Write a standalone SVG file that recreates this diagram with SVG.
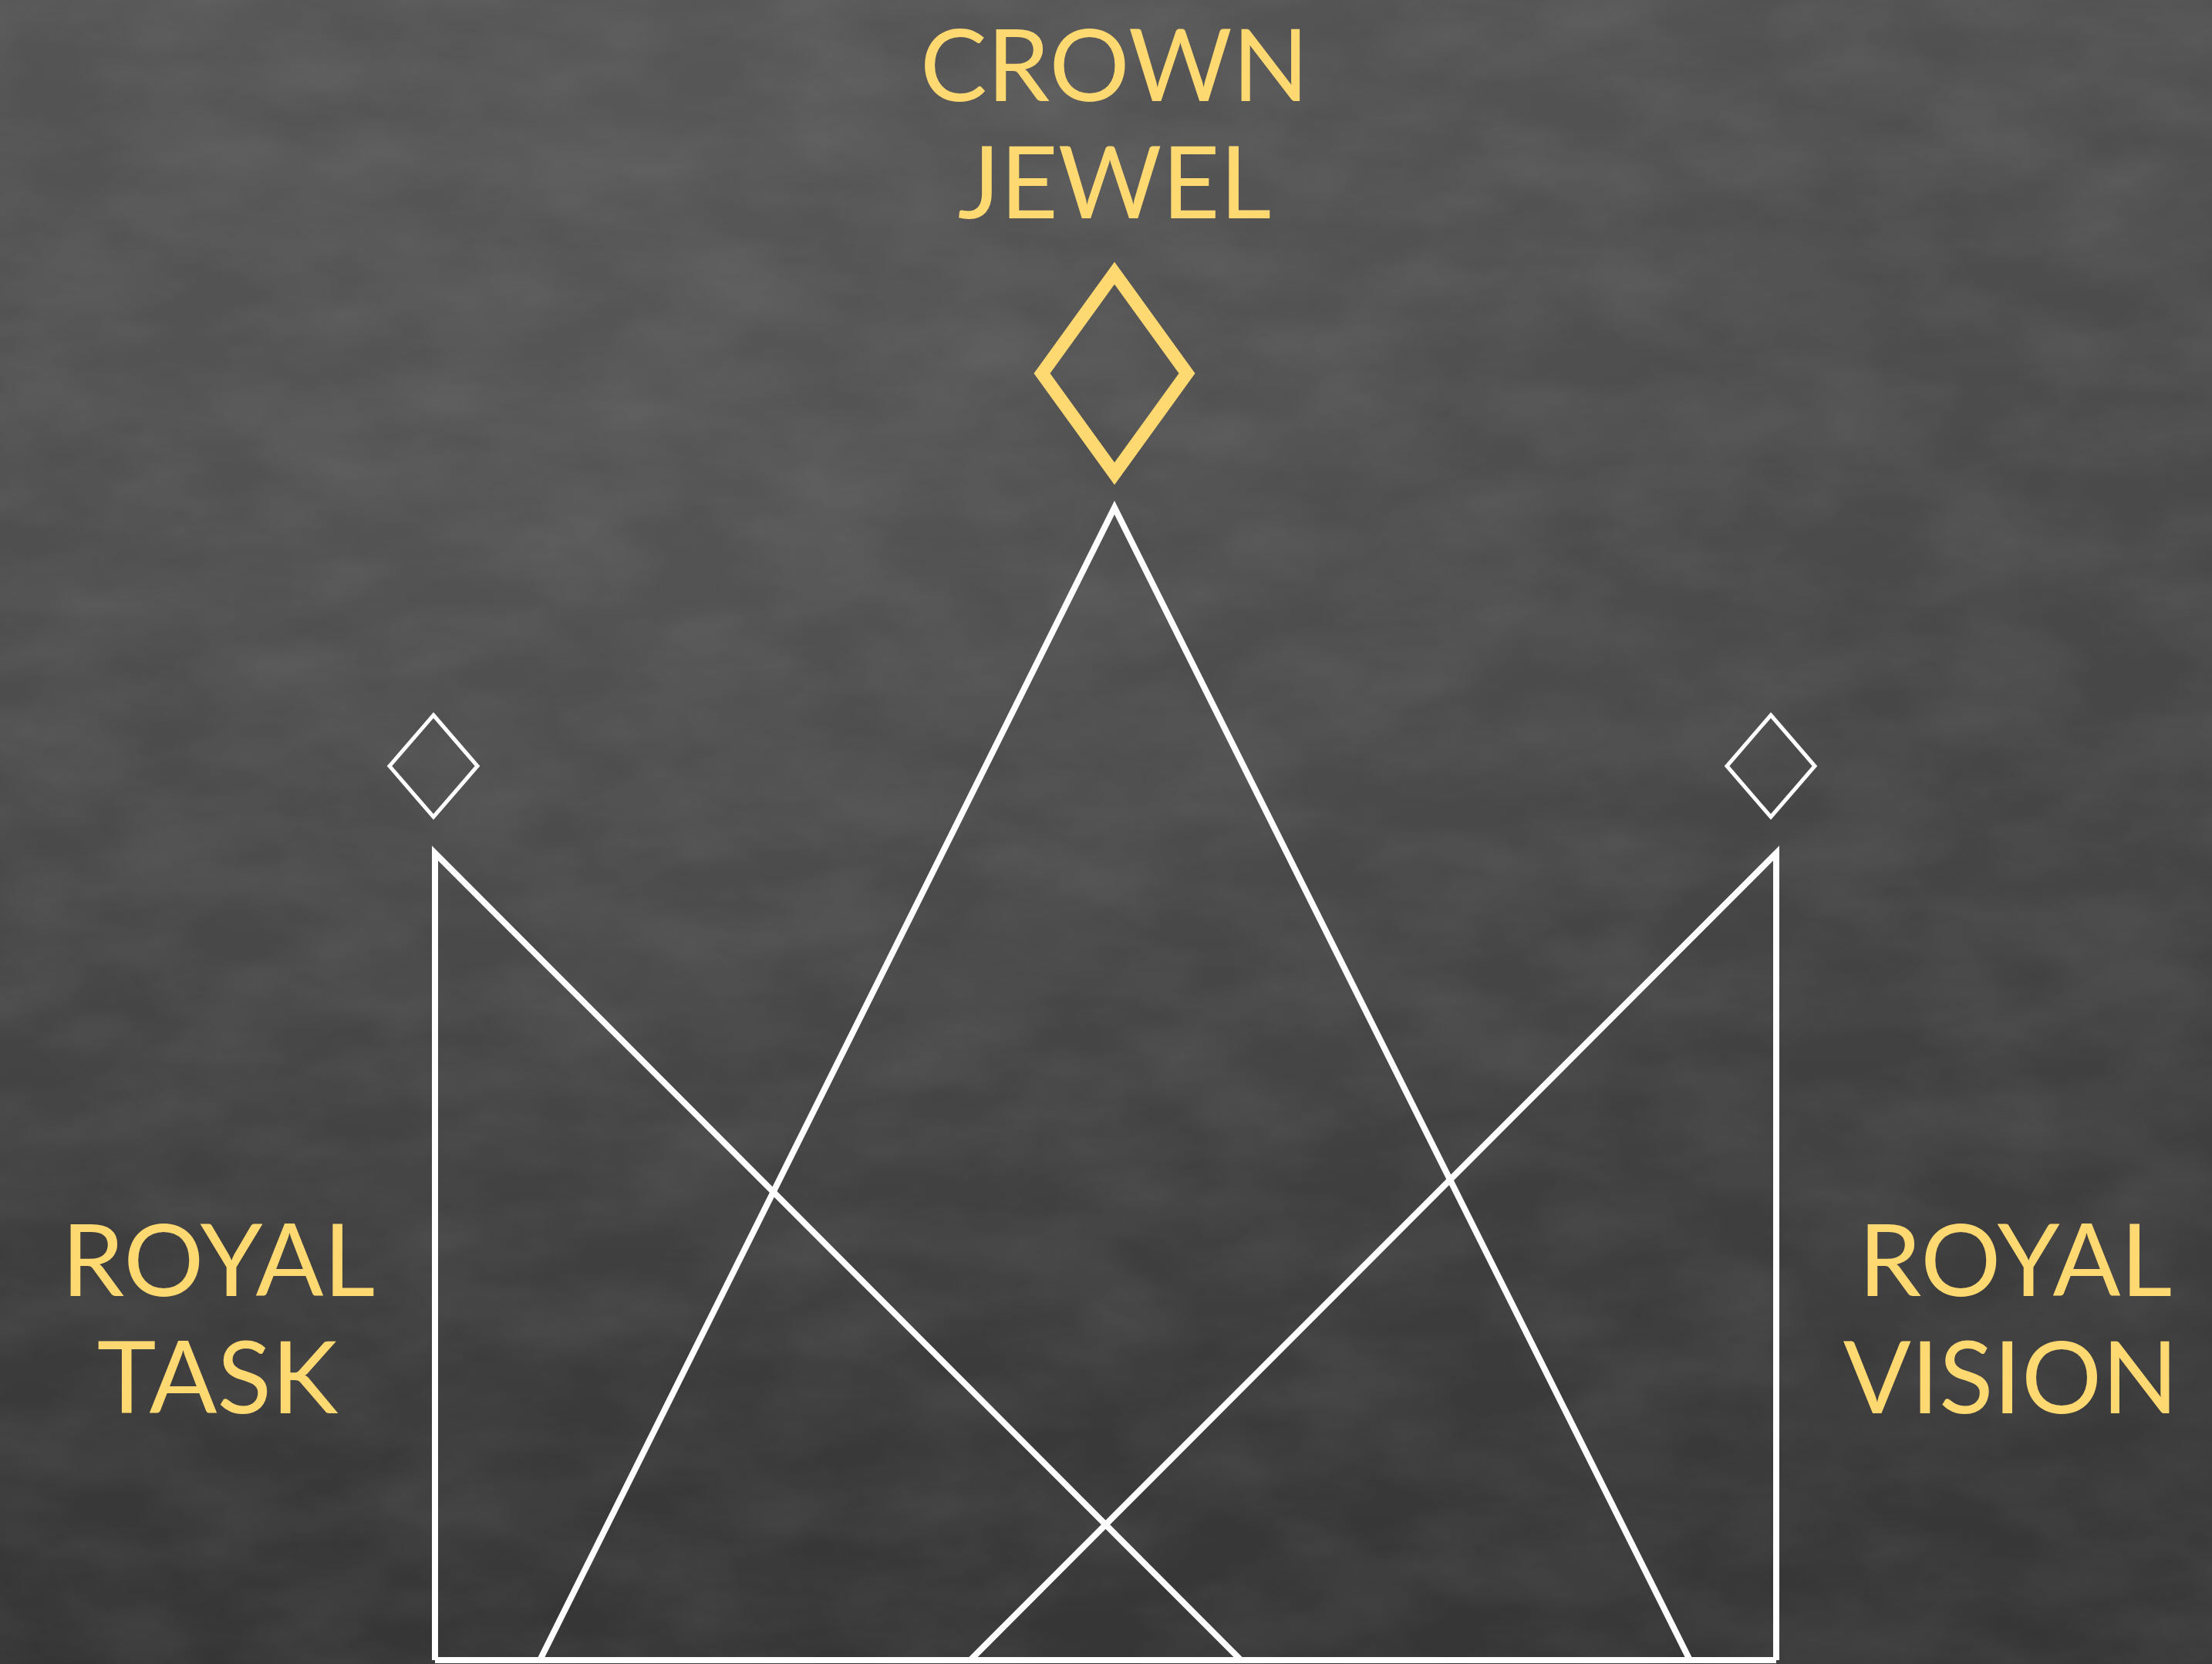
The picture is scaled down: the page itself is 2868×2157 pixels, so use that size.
<svg xmlns="http://www.w3.org/2000/svg" width="2868" height="2157" viewBox="0 0 2868 2157">
<style>
.lbl{font-family:Lato,"Open Sans","Liberation Sans",sans-serif;font-size:130px;fill:#FED870;text-anchor:middle}
.line{stroke:#FFFFFF;stroke-width:8;fill:none;stroke-linejoin:miter;stroke-miterlimit:10}
.gem{stroke:#FFFFFF;stroke-width:5;fill:none;stroke-linejoin:miter;stroke-miterlimit:10}
</style>
<defs>
<linearGradient id="bg" x1="0" y1="0" x2="0" y2="1">
<stop offset="0" stop-color="#515151"/>
<stop offset="0.5" stop-color="#454545"/>
<stop offset="1" stop-color="#353535"/>
</linearGradient>
<radialGradient id="glow" cx="0.3" cy="0.25" r="0.6">
<stop offset="0" stop-color="#6a6a6a" stop-opacity="0.35"/>
<stop offset="1" stop-color="#6a6a6a" stop-opacity="0"/>
</radialGradient>
<filter id="chalk" x="0" y="0" width="100%" height="100%">
<feTurbulence type="fractalNoise" baseFrequency="0.006 0.012" numOctaves="4" seed="11" result="n"/>
<feColorMatrix type="matrix" values="0 0 0 0 1  0 0 0 0 1  0 0 0 0 1  0 0 0 0.22 -0.06"/>
</filter>
</defs>
<rect width="2868" height="2157" fill="url(#bg)"/>
<rect width="2868" height="2157" fill="url(#glow)"/>
<rect width="2868" height="2157" filter="url(#chalk)" opacity="0.5"/>
<g id="connectors">
<line class="line" x1="564" y1="2152" x2="2303" y2="2152" stroke-width="5"/>
<path class="line" d="M564,2152 V1106 L1609,2152"/>
<path class="line" d="M2303,2152 V1106 L1258,2152"/>
<path class="line" d="M700,2152 L1445,658 L2191,2152"/>
</g>
<g id="crown-jewel">
<path d="M1445,354 L1539,484 L1445,614 L1351,484 Z" fill="none" stroke="#FED870" stroke-width="17" stroke-miterlimit="10"/>
<text class="lbl" x="1445" y="131">CROWN</text>
<text class="lbl" x="1445" y="283">JEWEL</text>
</g>
<g id="royal-task">
<path class="gem" d="M562,927 L619,993 L562,1059 L505,993 Z"/>
<text class="lbl" x="283" y="1680">ROYAL</text>
<text class="lbl" x="282" y="1832">TASK</text>
</g>
<g id="royal-vision">
<path class="gem" d="M2296,927 L2353,993 L2296,1059 L2239,993 Z"/>
<text class="lbl" x="2613" y="1680">ROYAL</text>
<text class="lbl" x="2607" y="1832">VISION</text>
</g>
</svg>
